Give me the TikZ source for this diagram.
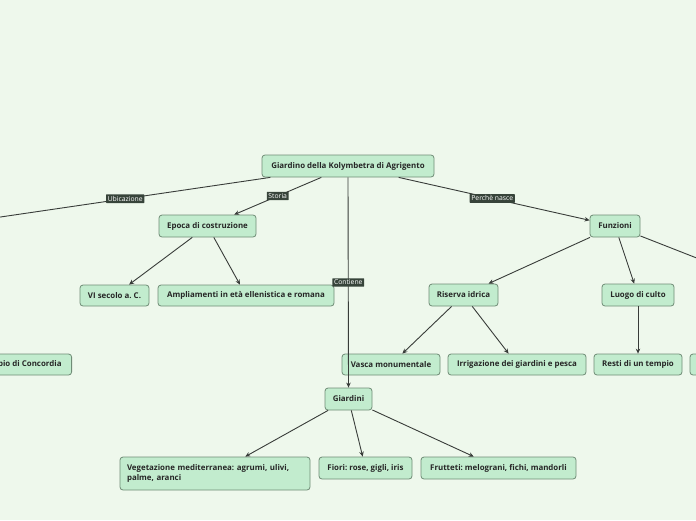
\documentclass[tikz,border=0pt]{standalone}
\usepackage{fontspec}
\setmainfont{Open Sans}
\usetikzlibrary{arrows.meta}
\definecolor{bg}{HTML}{EEF8EC}
\definecolor{nfill}{HTML}{C2ECCE}
\definecolor{nborder}{HTML}{6F8C76}
\definecolor{lfill}{HTML}{37443A}
\definecolor{edgec}{HTML}{383C39}
\tikzset{
  topic/.style={draw=nborder, fill=nfill, rounded corners=3pt, line width=0.8pt,
    font=\fontsize{7.9}{10}\selectfont\bfseries\frenchspacing, text=black!85, inner sep=0pt, align=center},
  lbl/.style={fill=lfill, text=white, font=\fontsize{6.8}{8}\selectfont, inner sep=1.7pt, rounded corners=0.5pt},
  conn/.style={draw=edgec, line width=0.9pt},
  arr/.style={conn, -{Stealth[length=5pt,width=4.5pt]}},
}
\begin{document}
\begin{tikzpicture}[x=1pt,y=-1pt]
\fill[bg] (0,0) rectangle (696,520);
\useasboundingbox (0,0) rectangle (696,520);
% nodes
\node[topic, minimum width=172, minimum height=22] (root) at (348,166) {Giardino della Kolymbetra di Agrigento};
\node[topic, minimum width=97, minimum height=22] (epoca) at (207.5,226) {Epoca di costruzione};
\node[topic, minimum width=69, minimum height=21] (vi) at (114.5,295.5) {VI secolo a. C.};
\node[topic, minimum width=176, minimum height=21] (ampl) at (246,295.5) {Ampliamenti in età ellenistica e romana};
\node[topic, minimum width=50, minimum height=22] (funz) at (615,226) {Funzioni};
\node[topic, minimum width=69, minimum height=22] (ris) at (463.5,295) {Riserva idrica};
\node[topic, minimum width=72, minimum height=22] (luogo) at (638,295) {Luogo di culto};
\node[topic, minimum width=98, minimum height=21] (vasca) at (391,364.5) {Vasca monumentale};
\node[topic, minimum width=138, minimum height=21] (irr) at (517,364.5) {Irrigazione dei giardini e pesca};
\node[topic, minimum width=88, minimum height=21] (resti) at (638,364.5) {Resti di un tempio};
\node[topic, minimum width=60, minimum height=21] (rcut) at (720,364.5) {};
\node[topic, minimum width=100, minimum height=21, anchor=east] (conc) at (72,364.5) {Tempio di Concordia};
\node[topic, minimum width=47, minimum height=22] (giard) at (348.5,399) {Giardini};
\node[topic, minimum width=190, minimum height=33, align=left, text width=176] (veg) at (215,473.5) {Vegetazione mediterranea: agrumi, ulivi,\\palme, aranci};
\node[topic, minimum width=93, minimum height=22] (fiori) at (365.5,468) {Fiori: rose, gigli, iris};
\node[topic, minimum width=155, minimum height=22] (frut) at (498.5,468) {Frutteti: melograni, fichi, mandorli};
\coordinate (ubi) at (-20,220);
\coordinate (rfar) at (740,275);
% connectors
\draw[conn] (root) -- node[lbl, pos=0.5] {Ubicazione} (ubi);
\draw[arr] (root) -- node[lbl, pos=0.5] {Storia} (epoca);
\draw[arr] (root.south) -- node[lbl, pos=0.50] {Contiene} (giard.north);
\draw[arr] (root) -- node[lbl, pos=0.49] {Perchè nasce} (funz);
\draw[arr] (epoca) -- (vi);
\draw[arr] (epoca) -- (ampl);
\draw[arr] (funz) -- (ris);
\draw[arr] (funz) -- (luogo);
\draw[conn] (funz) -- (rfar);
\draw[arr] (ris) -- (vasca);
\draw[arr] (ris) -- (irr);
\draw[arr] (luogo) -- (resti);
\draw[arr] (giard) -- (veg);
\draw[arr] (giard) -- (fiori);
\draw[arr] (giard) -- (frut);
\end{tikzpicture}
\end{document}
